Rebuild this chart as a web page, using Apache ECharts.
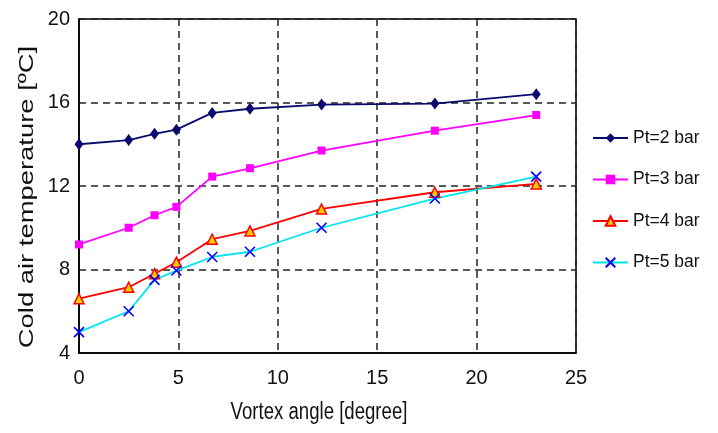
<!DOCTYPE html>
<html>
<head>
<meta charset="utf-8">
<script src="https://cdn.jsdelivr.net/npm/echarts@6/dist/echarts.min.js"></script>
<style>html,body{margin:0;padding:0;background:#fff}#c{width:718px;height:433px}</style>
</head>
<body>
<div id="c"></div>
<script>
var angles = [0, 2.5, 3.8, 4.9, 6.7, 8.6, 12.2, 17.9, 23.0];
var pt2 = [14.0, 14.2, 14.5, 14.7, 15.5, 15.7, 15.9, 15.95, 16.4];
var pt3 = [9.2, 10.0, 10.6, 11.0, 12.45, 12.85, 13.7, 14.65, 15.4];
var pt4 = [6.6, 7.15, 7.8, 8.35, 9.45, 9.85, 10.9, 11.7, 12.1];
var pt5 = [5.0, 6.0, 7.5, 7.95, 8.6, 8.85, 10.0, 11.4, 12.45];
var seriesNames = ['Pt=2 bar', 'Pt=3 bar', 'Pt=4 bar', 'Pt=5 bar'];
var xTitle = 'Vortex angle [degree]';
var yTitle = 'Cold air temperature [ºC]';

function pairs(ys) { return angles.map(function (x, i) { return [x, ys[i]]; }); }

var FONT = "'Liberation Sans', Arial, sans-serif";
var gridLine = { show: true, lineStyle: { color: '#222', type: [7, 5], width: 1.5 } };

var chart = echarts.init(document.getElementById('c'), null, { renderer: 'canvas' });
chart.setOption({
  animation: false,
  backgroundColor: '#fff',
  grid: { left: 79, right: 142, top: 19, bottom: 80, show: true, borderColor: '#000', borderWidth: 1.5 },
  xAxis: {
    type: 'value', min: 0, max: 25, interval: 5,
    axisLine: { show: true, onZero: false, lineStyle: { color: '#000', width: 1.5 } },
    axisTick: { show: false },
    splitLine: gridLine,
    axisLabel: { fontFamily: FONT, fontSize: 20, color: '#111', margin: 15 }
  },
  yAxis: {
    type: 'value', min: 4, max: 20, interval: 4,
    axisLine: { show: true, onZero: false, lineStyle: { color: '#000', width: 1.5 } },
    axisTick: { show: false },
    splitLine: gridLine,
    axisLabel: { fontFamily: FONT, fontSize: 20, color: '#111', margin: 9 }
  },
  legend: {
    orient: 'vertical', left: 592, top: 127, padding: 0,
    itemWidth: 35, itemHeight: 12, itemGap: 19.5,
    textStyle: { fontFamily: FONT, fontSize: 17.5, color: '#111', lineHeight: 22 },
    data: seriesNames
  },
  graphic: [
    { type: 'text', x: 319, y: 412, scaleY: 1.3, style: { text: xTitle, font: '18.6px ' + FONT, fill: '#111', textAlign: 'center', textVerticalAlign: 'middle' } },
    { type: 'text', x: 27, y: 197, rotation: Math.PI / 2, scaleX: 1.37, style: { text: yTitle, font: '20px ' + FONT, fill: '#111', textAlign: 'center', textVerticalAlign: 'middle' } }
  ],
  series: [
    { name: seriesNames[0], type: 'line', data: pairs(pt2), symbol: 'diamond', symbolSize: [9, 12],
      lineStyle: { color: '#0a0a6e', width: 1.8 }, itemStyle: { color: '#0a0a6e' } },
    { name: seriesNames[1], type: 'line', data: pairs(pt3), symbol: 'rect', symbolSize: 8,
      lineStyle: { color: '#ff00ff', width: 1.8 }, itemStyle: { color: '#ff00ff' } },
    { name: seriesNames[2], type: 'line', data: pairs(pt4), symbol: 'triangle', symbolSize: 10,
      lineStyle: { color: '#ff0000', width: 1.8 }, itemStyle: { color: '#ffcc00', borderColor: '#ff0000', borderWidth: 1.5 } },
    { name: seriesNames[3], type: 'line', data: pairs(pt5), symbol: 'path://M0,0L10,10M10,0L0,10', symbolSize: 10,
      lineStyle: { color: '#00e5ee', width: 1.8 }, itemStyle: { color: 'rgba(0,0,0,0)', borderColor: '#0000ff', borderWidth: 1.6 } }
  ]
});
</script>
</body>
</html>
